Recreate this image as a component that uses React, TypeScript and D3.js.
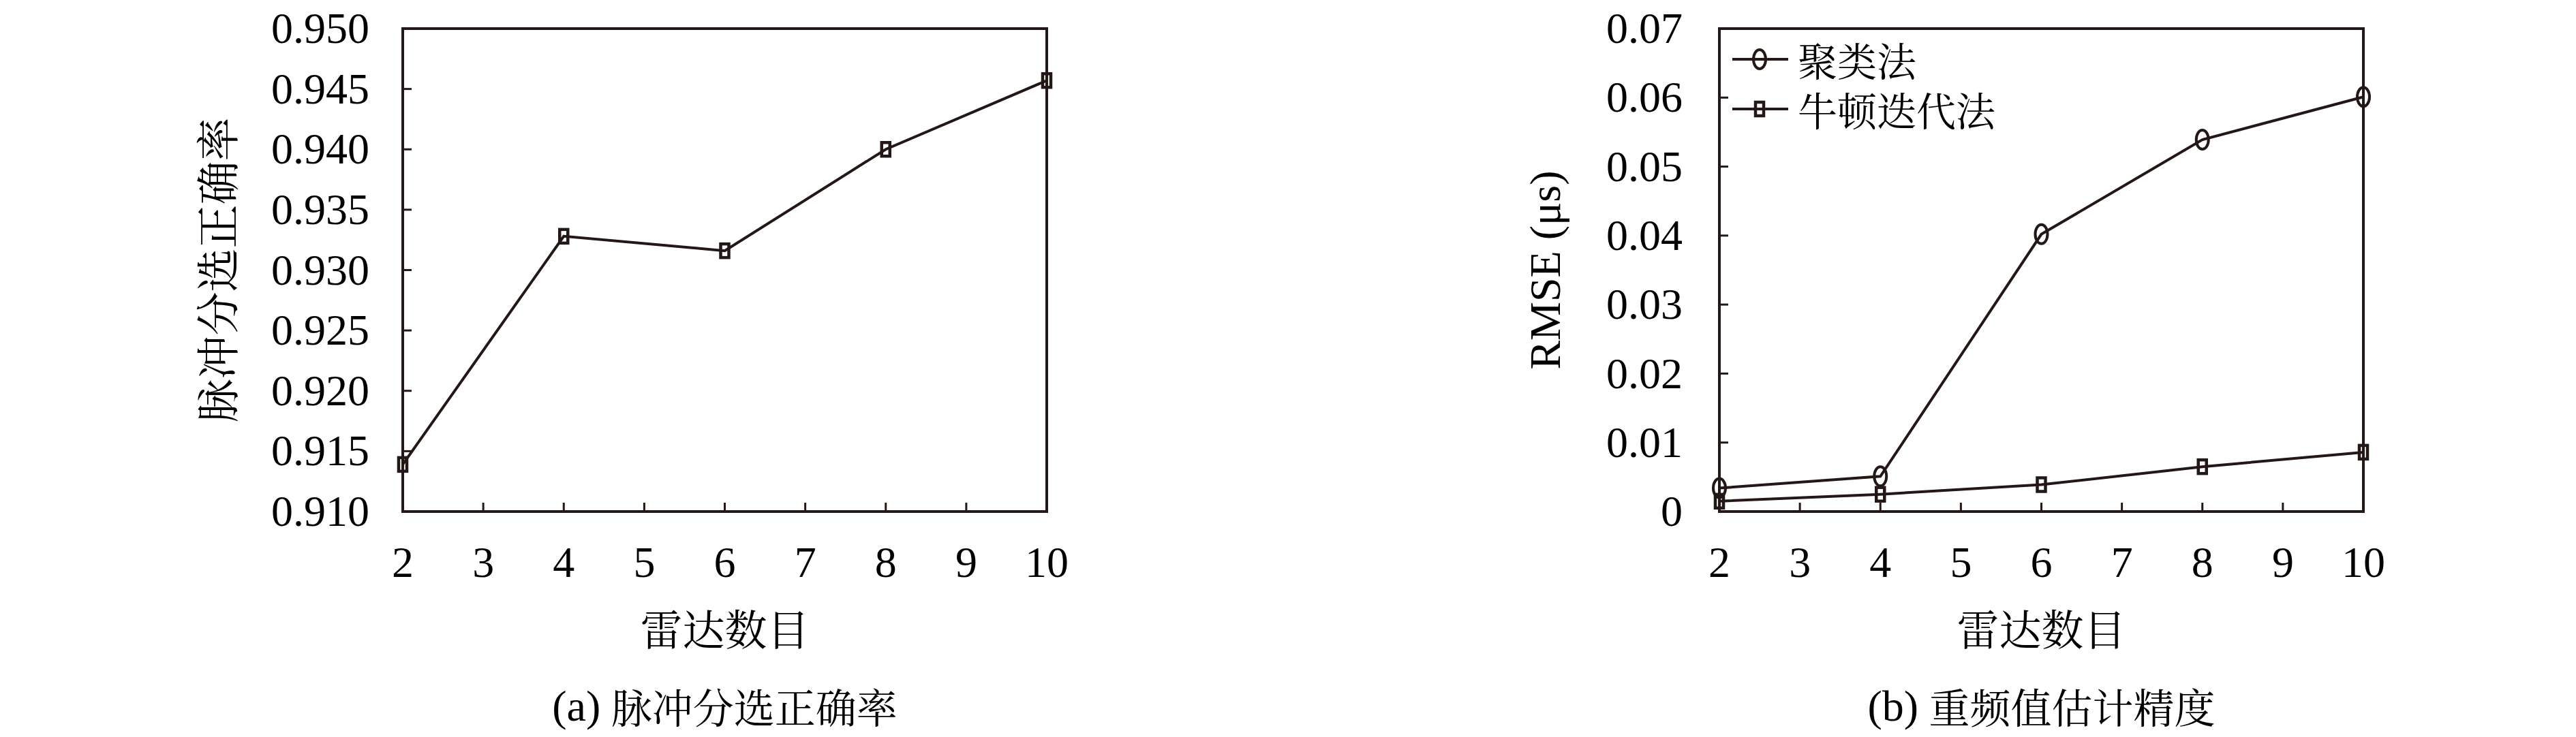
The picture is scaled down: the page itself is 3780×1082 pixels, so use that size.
import React from "react";
import * as d3 from "d3";

// radar counts on the x axis
const radarCounts = [2, 4, 6, 8, 10];
const xTicks = [2, 3, 4, 5, 6, 7, 8, 9, 10];

// (a) pulse sorting accuracy
const accuracy = [0.9139, 0.9328, 0.9316, 0.94, 0.9457];
const yTicksA = [0.91, 0.915, 0.92, 0.925, 0.93, 0.935, 0.94, 0.945, 0.95];

// (b) PRI estimation RMSE (us)
const clusterRmse = [0.0034, 0.0051, 0.0402, 0.0539, 0.0601];
const newtonRmse = [0.0015, 0.0025, 0.0039, 0.0065, 0.0086];
const yTicksB = [0, 0.01, 0.02, 0.03, 0.04, 0.05, 0.06, 0.07];

const legendNames = ["聚类法", "牛顿迭代法"];

const INK = "#231815";
const NUM_FONT = "'Liberation Serif', 'DejaVu Serif', serif";
const CJK_FONT = "'Noto Serif CJK SC', 'Noto Sans CJK SC', sans-serif";

const top = 42;
const bottom = 751;
const tickLen = 13;

function Square({ x, y }) {
  return (
    <rect x={x - 6} y={y - 10} width={12} height={20} fill="none" stroke={INK} strokeWidth={4.5} />
  );
}

function Ring({ x, y }) {
  return <ellipse cx={x} cy={y} rx={9} ry={14} fill="none" stroke={INK} strokeWidth={4} />;
}

function Panel({ left, right, yDomain, yTicks, yFmt, labelGap, yTitle, yTitleX, yTitleFont, caption, children }) {
  const x = d3.scaleLinear().domain([2, 10]).range([left, right]);
  const y = d3.scaleLinear().domain(yDomain).range([bottom, top]);
  const cx = (left + right) / 2;
  return (
    <g>
      {yTicks.map((t) => (
        <g key={"y" + t}>
          <line x1={left} x2={left + tickLen} y1={y(t)} y2={y(t)} stroke={INK} strokeWidth={3} />
          <text x={left - labelGap} y={y(t)} dy="0.33em" textAnchor="end" fontFamily={NUM_FONT} fontSize={64} fill="#000">
            {yFmt(t)}
          </text>
        </g>
      ))}
      {xTicks.map((t) => (
        <g key={"x" + t}>
          <line x1={x(t)} x2={x(t)} y1={bottom} y2={bottom - tickLen} stroke={INK} strokeWidth={3} />
          <text x={x(t)} y={847} textAnchor="middle" fontFamily={NUM_FONT} fontSize={64} fill="#000">
            {t}
          </text>
        </g>
      ))}
      <rect x={left} y={top} width={right - left} height={bottom - top} fill="none" stroke={INK} strokeWidth={4} />
      {children(x, y)}
      <text
        transform={`translate(${yTitleX},${(top + bottom) / 2}) rotate(-90)`}
        textAnchor="middle"
        dominantBaseline="central"
        fontFamily={yTitleFont}
        fontSize={64}
        fill="#000"
      >
        {yTitle}
      </text>
      <text x={cx} y={921} textAnchor="middle" dominantBaseline="central" fontFamily={CJK_FONT} fontSize={62} fill="#000">
        雷达数目
      </text>
      <text x={cx} y={1036} textAnchor="middle" dominantBaseline="central" fontFamily={CJK_FONT} fontSize={60} fill="#000">
        <tspan fontFamily={NUM_FONT} fontSize={64}>{caption[0]}</tspan>
        {" " + caption[1]}
      </text>
    </g>
  );
}

export default function App() {
  const fmtA = d3.format(".3f");
  const fmtB = (d) => (d === 0 ? "0" : d3.format(".2f")(d));

  return (
    <svg width={3780} height={1082} style={{ position: "absolute", left: 0, top: 0, background: "#fff" }}>
      <rect width={3780} height={1082} fill="#fff" />
      <Panel
        left={591}
        right={1536}
        yDomain={[0.91, 0.95]}
        yTicks={yTicksA}
        yFmt={fmtA}
        labelGap={49}
        yTitle="脉冲分选正确率"
        yTitleX={315}
        yTitleFont={CJK_FONT}
        caption={["(a)", "脉冲分选正确率"]}
      >
        {(x, y) => {
          const line = d3
            .line<number>()
            .x((_, i) => x(radarCounts[i]))
            .y((d) => y(d));
          return (
            <g>
              <path d={line(accuracy)} fill="none" stroke={INK} strokeWidth={4} />
              {accuracy.map((d, i) => (
                <Square key={i} x={x(radarCounts[i])} y={y(d)} />
              ))}
            </g>
          );
        }}
      </Panel>
      <Panel
        left={2523}
        right={3468}
        yDomain={[0, 0.07]}
        yTicks={yTicksB}
        yFmt={fmtB}
        labelGap={54}
        yTitle="RMSE (μs)"
        yTitleX={2267}
        yTitleFont={NUM_FONT}
        caption={["(b)", "重频值估计精度"]}
      >
        {(x, y) => {
          const line = d3
            .line<number>()
            .x((_, i) => x(radarCounts[i]))
            .y((d) => y(d));
          return (
            <g>
              <path d={line(clusterRmse)} fill="none" stroke={INK} strokeWidth={4} />
              <path d={line(newtonRmse)} fill="none" stroke={INK} strokeWidth={4} />
              {clusterRmse.map((d, i) => (
                <Ring key={"c" + i} x={x(radarCounts[i])} y={y(d)} />
              ))}
              {newtonRmse.map((d, i) => (
                <Square key={"n" + i} x={x(radarCounts[i])} y={y(d)} />
              ))}
              {/* legend */}
              {legendNames.map((name, i) => {
                const ly = 87 + i * 73;
                return (
                  <g key={name}>
                    <line x1={2542} x2={2624} y1={ly} y2={ly} stroke={INK} strokeWidth={4} />
                    {i === 0 ? <Ring x={2582} y={ly} /> : <Square x={2582} y={ly} />}
                    <text x={2638} y={ly} dominantBaseline="central" fontFamily={CJK_FONT} fontSize={58} fill="#000">
                      {name}
                    </text>
                  </g>
                );
              })}
            </g>
          );
        }}
      </Panel>
    </svg>
  );
}
